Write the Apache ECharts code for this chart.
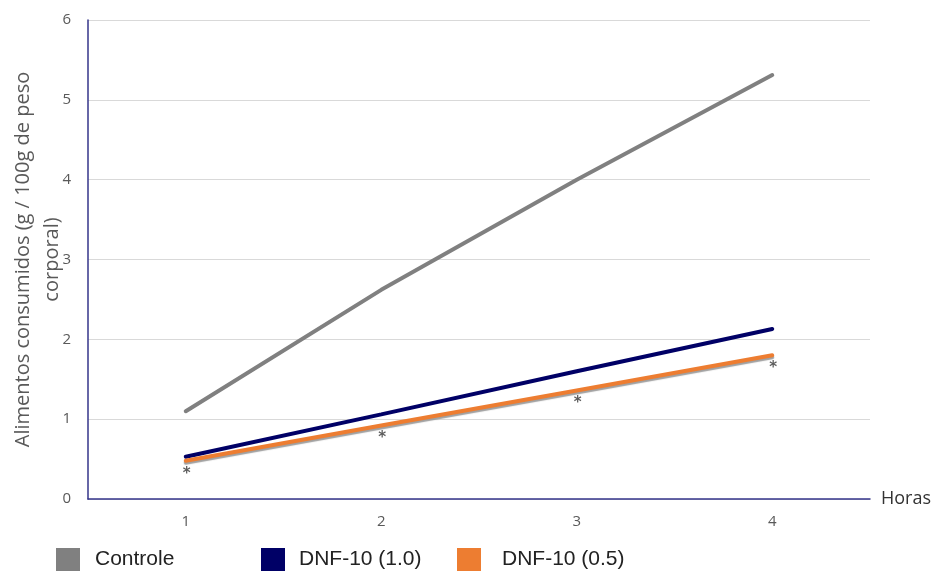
<!DOCTYPE html>
<html>
<head>
<meta charset="utf-8">
<script src="https://cdn.jsdelivr.net/npm/echarts@6/dist/echarts.min.js"></script>
<style>html,body{margin:0;padding:0;background:#fff}#c{width:932px;height:571px}</style>
</head>
<body>
<div id="c"></div>
<script>
const categories = ['1', '2', '3', '4'];
const controle = [1.10, 2.62, 4.00, 5.31];
const dnf10_10 = [0.53, 1.06, 1.60, 2.13];
const dnf10_05 = [0.48, 0.92, 1.36, 1.80];
const yTicks = [0, 1, 2, 3, 4, 5, 6];
const seriesNames = ['Controle', 'DNF-10 (1.0)', 'DNF-10 (0.5)'];

const chart = echarts.init(document.getElementById('c'), null, {renderer: 'canvas'});
const axisColor = '#35358a';
const legendLeft = [56, 261, 457];
const legendTextGap = [10, 9, 16];
chart.setOption({
  animation: false,
  backgroundColor: '#fff',
  grid: {left: 88, right: 62, top: 20, bottom: 72, containLabel: false, outerBoundsMode: 'none'},
  legend: seriesNames.map((n, i) => ({
    top: 548, left: legendLeft[i], padding: 0,
    itemWidth: 24, itemHeight: 23,
    icon: 'rect',
    textStyle: {fontFamily: 'Liberation Sans', fontSize: 21, color: '#222', padding: [4, 0, 0, legendTextGap[i]]},
    data: [n]
  })),
  xAxis: {
    type: 'category', data: categories, boundaryGap: true,
    name: 'Horas', nameLocation: 'end', nameGap: 11,
    nameTextStyle: {fontFamily: 'Open Sans', fontSize: 18, color: '#333'},
    axisLine: {lineStyle: {color: axisColor, width: 1.5}},
    axisTick: {show: false},
    axisLabel: {margin: 15, fontFamily: 'Open Sans', fontSize: 15, color: '#595959'},
    splitLine: {show: false}
  },
  yAxis: {
    type: 'value', min: yTicks[0], max: yTicks[yTicks.length - 1], interval: 1,
    name: 'Alimentos consumidos (g / 100g de peso\ncorporal)', nameLocation: 'middle', nameGap: 21,
    nameMoveOverlap: false,
    nameTextStyle: {fontFamily: 'Open Sans', fontSize: 20, color: '#595959', lineHeight: 29},
    axisLine: {show: true, lineStyle: {color: axisColor, width: 1.5}},
    axisTick: {show: false},
    axisLabel: {margin: 17, fontFamily: 'Open Sans', fontSize: 15, color: '#595959'},
    splitLine: {lineStyle: {color: '#d9d9d9', width: 1}}
  },
  series: [
    {name: 'Controle', type: 'line', data: controle, symbol: 'none',
     itemStyle: {color: '#808080'}, lineStyle: {color: '#808080', width: 4, cap: 'round'}},
    {name: 'DNF-10 (1.0)', type: 'line', data: dnf10_10, symbol: 'none',
     itemStyle: {color: '#000066'}, lineStyle: {color: '#000066', width: 4, cap: 'round'}},
    {name: 'DNF-10 (0.5)', type: 'line', data: dnf10_05, symbol: 'none',
     itemStyle: {color: '#ED7D31'},
     lineStyle: {color: '#ED7D31', width: 4, cap: 'round', shadowColor: 'rgba(150,150,150,0.9)', shadowOffsetY: 2, shadowBlur: 1}},
    {name: 'sig', type: 'scatter', data: dnf10_05, symbolSize: 1,
     itemStyle: {color: 'rgba(0,0,0,0)'}, z: 5,
     label: {show: true, position: 'bottom', distance: 5, formatter: '*', fontFamily: 'DejaVu Sans', fontSize: 15, fontWeight: 'bold', color: '#333', offset: [1, 0]}}
  ]
});
</script>
</body>
</html>
